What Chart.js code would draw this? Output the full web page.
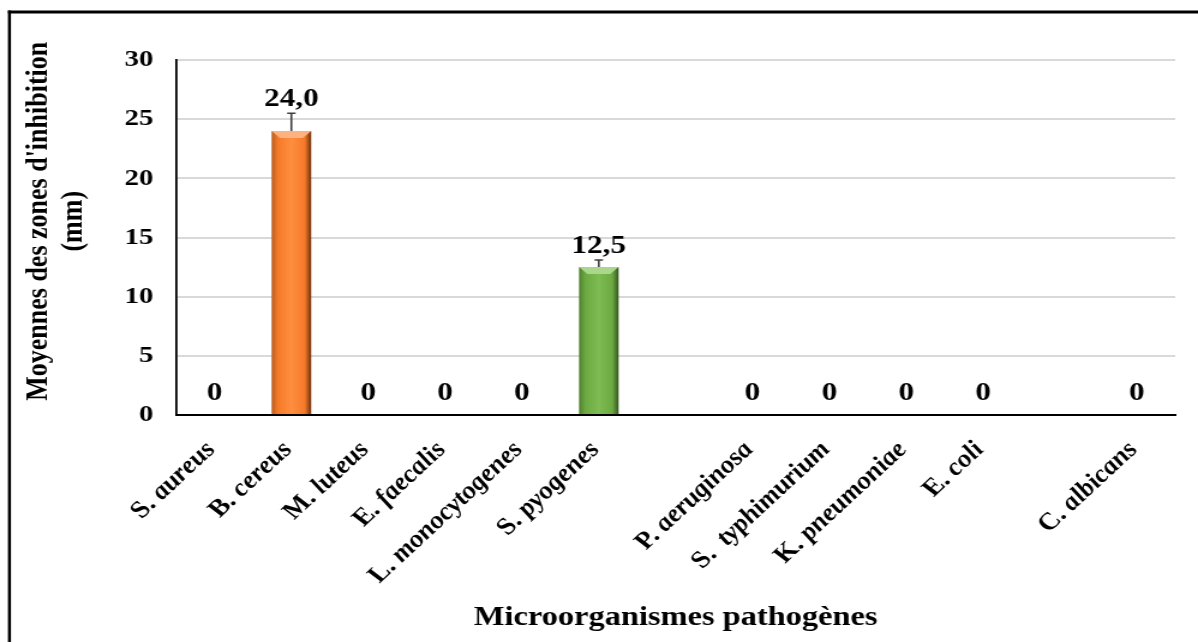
<!DOCTYPE html>
<html>
<head>
<meta charset="utf-8">
<title>Moyennes des zones d'inhibition</title>
<script src="https://cdn.jsdelivr.net/npm/chart.js@4.4.1/dist/chart.umd.min.js"></script>
<style>
  html, body { margin: 0; padding: 0; background: #fff; }
  canvas { display: block; }
</style>
</head>
<body>
<!-- the original figure is stretched sideways, so the canvas is drawn narrower and widened by css -->
<canvas id="chart" width="998" height="642" style="width:1198px;height:642px"></canvas>
<script>
// data
const categories = ['S. aureus', 'B. cereus', 'M. luteus', 'E. faecalis', 'L. monocytogenes', 'S. pyogenes', '',
  'P. aeruginosa', 'S.  typhimurium', 'K. pneumoniae', 'E. coli', '', 'C. albicans'];
const values = [0, 24.0, 0, 0, 0, 12.5, null, 0, 0, 0, 0, null, 0];
const errors = [0, 1.5, 0, 0, 0, 0.6, null, 0, 0, 0, 0, null, 0];
const yTicks = [0, 5, 10, 15, 20, 25, 30];

// styles
const barTone = ['orange', 'orange', 'orange', 'orange', 'orange', 'green', 'green',
  'green', 'green', 'green', 'green', 'green', 'green'];
const tones = {
  orange: { edgeL: '#B85C1F', mid: '#F57A29', light: '#FF8E40', edgeR: '#6A300E', top: '#FDB27F' },
  green:  { edgeL: '#4F7F2F', mid: '#6CA942', light: '#7EBD53', edgeR: '#33551C', top: '#AAD78C' }
};
const serif = '"Liberation Serif", "Times New Roman", serif';
const BAR_PCT = 0.515;
const LABEL_ANGLE = 48; // degrees on the canvas, ~42 once widened

const fmt = v => v === 0 ? '0' : v.toFixed(1).replace('.', ',');

function barFill(c) {
  const chart = c.chart;
  const sx = chart.scales.x;
  const tone = tones[barTone[c.dataIndex]];
  if (!sx || !chart.chartArea) return tone.mid;
  const x = sx.getPixelForValue(c.dataIndex);
  const half = sx.width / categories.length * BAR_PCT / 2;
  const g = chart.ctx.createLinearGradient(x - half, 0, x + half, 0);
  g.addColorStop(0, tone.edgeL);
  g.addColorStop(0.16, tone.mid);
  g.addColorStop(0.5, tone.light);
  g.addColorStop(0.84, tone.mid);
  g.addColorStop(1, tone.edgeR);
  return g;
}

// outer frame (only left and top edges are inside the picture)
const frame = {
  id: 'frame',
  beforeDraw(chart) {
    const ctx = chart.ctx;
    ctx.save();
    ctx.fillStyle = '#000';
    ctx.fillRect(6.6, 10.5, 2.5, chart.height);
    ctx.fillRect(6.6, 10.5, chart.width, 3);
    ctx.restore();
  }
};

// bevel, error bars and value labels
const extras = {
  id: 'extras',
  afterDatasetsDraw(chart) {
    const ctx = chart.ctx;
    const sy = chart.scales.y;
    const meta = chart.getDatasetMeta(0);
    ctx.save();
    meta.data.forEach((bar, i) => {
      const v = values[i];
      if (v === null) return;
      const { x, y, width } = bar.getProps(['x', 'y', 'width'], true);
      let labelY;
      if (v > 0) {
        const b = 7;
        const l = x - width / 2, r = x + width / 2;
        ctx.fillStyle = tones[barTone[i]].top;
        ctx.beginPath();
        ctx.moveTo(l, y);
        ctx.lineTo(r, y);
        ctx.lineTo(r - b, y + b);
        ctx.lineTo(l + b, y + b);
        ctx.closePath();
        ctx.fill();

        const top = sy.getPixelForValue(v + errors[i]);
        ctx.strokeStyle = '#404040';
        ctx.lineWidth = 1.6;
        ctx.beginPath();
        ctx.moveTo(x, y);
        ctx.lineTo(x, top);
        ctx.moveTo(x - 3.5, top);
        ctx.lineTo(x + 3.5, top);
        ctx.stroke();
        labelY = top - 7;
      } else {
        labelY = sy.getPixelForValue(0) - 15;
      }
      ctx.fillStyle = '#000';
      ctx.font = 'bold 26px ' + serif;
      ctx.textAlign = 'center';
      ctx.textBaseline = 'alphabetic';
      ctx.fillText(fmt(v), x, labelY);
    });
    ctx.restore();
  }
};

// category labels: genus letter upright, species in italics
const xLabels = {
  id: 'xLabels',
  afterDraw(chart) {
    const ctx = chart.ctx;
    const sx = chart.scales.x;
    const upright = 'bold 24px ' + serif;
    const italic = 'italic bold 24px ' + serif;
    ctx.save();
    ctx.fillStyle = '#000';
    ctx.textBaseline = 'alphabetic';
    ctx.textAlign = 'left';
    categories.forEach((name, i) => {
      if (!name) return;
      const cut = name.indexOf('.') + 1;
      const genus = name.slice(0, cut);
      const species = name.slice(cut);
      ctx.font = upright;
      const wg = ctx.measureText(genus).width;
      ctx.font = italic;
      const ws = ctx.measureText(species).width;
      ctx.save();
      ctx.translate(sx.getPixelForValue(i) + 1.7, sx.top + 35);
      ctx.rotate(-LABEL_ANGLE * Math.PI / 180);
      ctx.font = upright;
      ctx.fillText(genus, -wg - ws, 0);
      ctx.font = italic;
      ctx.fillText(species, -ws, 0);
      ctx.restore();
    });
    ctx.restore();
  }
};

new Chart(document.getElementById('chart'), {
  type: 'bar',
  data: {
    labels: categories,
    datasets: [{
      data: values,
      backgroundColor: barFill,
      borderWidth: 0,
      barPercentage: BAR_PCT,
      categoryPercentage: 1
    }]
  },
  options: {
    responsive: false,
    devicePixelRatio: 1,
    animation: false,
    layout: { padding: { left: 8, top: 60, right: 19, bottom: 0 } },
    plugins: {
      legend: { display: false },
      tooltip: { enabled: false }
    },
    scales: {
      x: {
        grid: { display: false },
        border: { color: '#000', width: 2 },
        ticks: { display: false },
        title: {
          display: true,
          text: 'Microorganismes pathogènes',
          color: '#000',
          font: { family: serif, size: 27, weight: 'bold', lineHeight: 1.2 },
          padding: { top: 0, bottom: 8 }
        },
        afterFit: s => { s.height = 227; }
      },
      y: {
        min: 0,
        max: 30,
        afterBuildTicks: s => { s.ticks = yTicks.map(v => ({ value: v })); },
        ticks: {
          padding: 19,
          color: '#000',
          font: { family: serif, size: 24, weight: 'bold' }
        },
        grid: { color: '#D9D9D9', lineWidth: 2, drawTicks: false },
        border: { color: '#000', width: 1.8 },
        title: {
          display: true,
          // leading blanks lift the title a little above the axis centre, as in the original
          text: ["     Moyennes des zones d'inhibition", '     (mm)'],
          color: '#000',
          font: { family: serif, size: 26, weight: 'bold', lineHeight: 1.12 },
          padding: { top: 10, bottom: 0 }
        },
        afterFit: s => { s.width = 138.7; }
      }
    }
  },
  plugins: [frame, extras, xLabels]
});
</script>
</body>
</html>
